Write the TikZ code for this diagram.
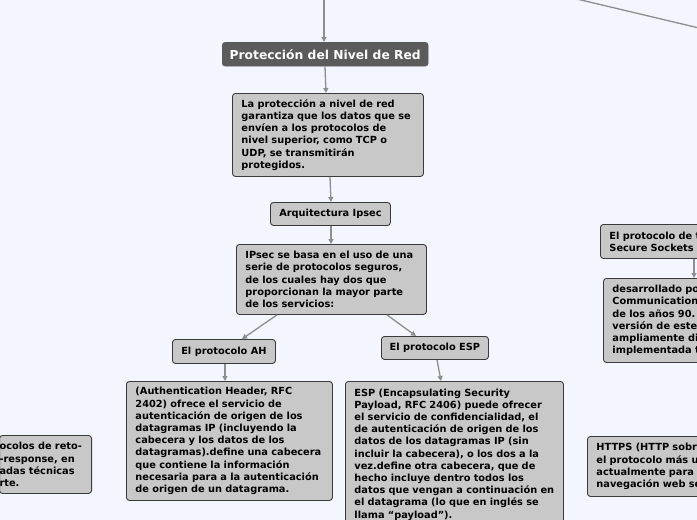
\documentclass[tikz,border=0pt]{standalone}
\usepackage{fontspec}
\setmainfont{DejaVu Sans}
\usetikzlibrary{arrows.meta}
\definecolor{bg}{HTML}{F3F6FE}
\definecolor{boxfill}{HTML}{C8C8C8}
\definecolor{boxline}{HTML}{3A3A3A}
\definecolor{titlefill}{HTML}{5B5B5B}
\definecolor{conn}{HTML}{8E8E8E}
\tikzset{
  box/.style={draw=boxline, fill=boxfill, line width=0.9pt, rounded corners=3pt,
    anchor=north west, inner xsep=9pt, inner ysep=0pt, align=left,
    font=\bfseries\fontsize{9.8}{12.2}\selectfont},
  cbox/.style={box, inner xsep=0pt, align=center},
  titlebox/.style={draw=titlefill, fill=titlefill, rounded corners=3pt, anchor=north west,
    inner sep=0pt, text=white, align=center, font=\bfseries\fontsize{12.3}{14}\selectfont},
  conn/.style={draw=conn, line width=1.3pt, -{Triangle[length=5pt,width=5pt]}},
  plain/.style={draw=conn, line width=1.3pt},
}
\begin{document}
\begin{tikzpicture}[x=1pt,y=-1pt]
\fill[bg] (0,0) rectangle (697,520);
\useasboundingbox (0,0) rectangle (697,520);
\clip (0,0) rectangle (697,520);

\node[titlebox, minimum width=206pt, minimum height=24pt] (t) at (222,42) {Protección del Nivel de Red};
\node[box, text width=173pt, minimum height=83pt] (b1) at (232,93)
 {La protección a nivel de red\\garantiza que los datos que se\\envíen a los protocolos de\\nivel superior, como TCP o\\UDP, se transmitirán\\protegidos.};
\node[cbox, minimum width=120pt, minimum height=23pt] (arq) at (270,202) {Arquitectura Ipsec};
\node[box, text width=172pt, minimum height=70pt] (ips) at (236,244)
 {IPsec se basa en el uso de una\\serie de protocolos seguros,\\de los cuales hay dos que\\proporcionan la mayor parte\\de los servicios:};
\node[cbox, minimum width=103pt, minimum height=24pt] (ah) at (172,339) {El protocolo AH};
\node[cbox, minimum width=107pt, minimum height=23pt] (esp) at (381,336) {El protocolo ESP};
\node[box, text width=188pt, minimum height=119pt] (ahd) at (126,381)
 {(Authentication Header, RFC\\2402) ofrece el servicio de\\autenticación de origen de los\\datagramas IP (incluyendo la\\cabecera y los datos de los\\datagramas).define una cabecera\\que contiene la información\\necesaria para a la autenticación\\de origen de un datagrama.};
\node[box, text width=200pt, minimum height=146pt] (espd) at (345,381)
 {ESP (Encapsulating Security\\Payload, RFC 2406) puede ofrecer\\el servicio de confidencialidad, el\\de autenticación de origen de los\\datos de los datagramas IP (sin\\incluir la cabecera), o los dos a la\\vez.define otra cabecera, que de\\hecho incluye dentro todos los\\datos que vengan a continuación en\\el datagrama (lo que en inglés se\\llama “payload”).};

% right, clipped
\node[box, text width=180pt, minimum height=34pt] (ssl) at (600,224)
 {El protocolo de t\\Secure Sockets};
\node[box, text width=180pt, minimum height=84pt] (des) at (603,278)
 {desarrollado po\\Communication\\de los años 90.\\versión de este\\ampliamente di\\implementada t};
\node[box, text width=180pt, minimum height=60pt] (https) at (587,436)
 {HTTPS (HTTP sobr\\el protocolo más u\\actualmente para\\navegación web se};
% left, clipped
\node[box, anchor=north east, inner xsep=0pt, text width=92pt, minimum height=58pt] (lft) at (92,435)
 {ocolos de reto-\\-response, en\\adas técnicas\\rte.};

% connectors
\coordinate (top) at (324,-5);
\coordinate (d1) at (560,-5);
\coordinate (d2) at (720,33);
\draw[conn] (top) -- (t.north -| top);
\draw[plain] (d1) -- (d2);
\draw[conn] (t.south -| 325,0) -- (b1.north -| 326,0);
\draw[conn] (b1.south -| 330,0) -- (arq.north -| 331,0);
\draw[conn] (arq.south -| 331,0) -- (ips.north -| 331,0);
\draw[conn] (ips.south -| 277,0) -- (ah.north -| 242,0);
\draw[conn] (ips.south -| 387,0) -- (esp.north -| 416,0);
\draw[conn] (ah.south -| 225,0) -- (ahd.north -| 225,0);
\draw[conn] (esp.south -| 437,0) -- (espd.north -| 441,0);
\draw[conn] (ssl.south -| 694,0) -- (des.north -| 694,0);
\end{tikzpicture}
\end{document}
